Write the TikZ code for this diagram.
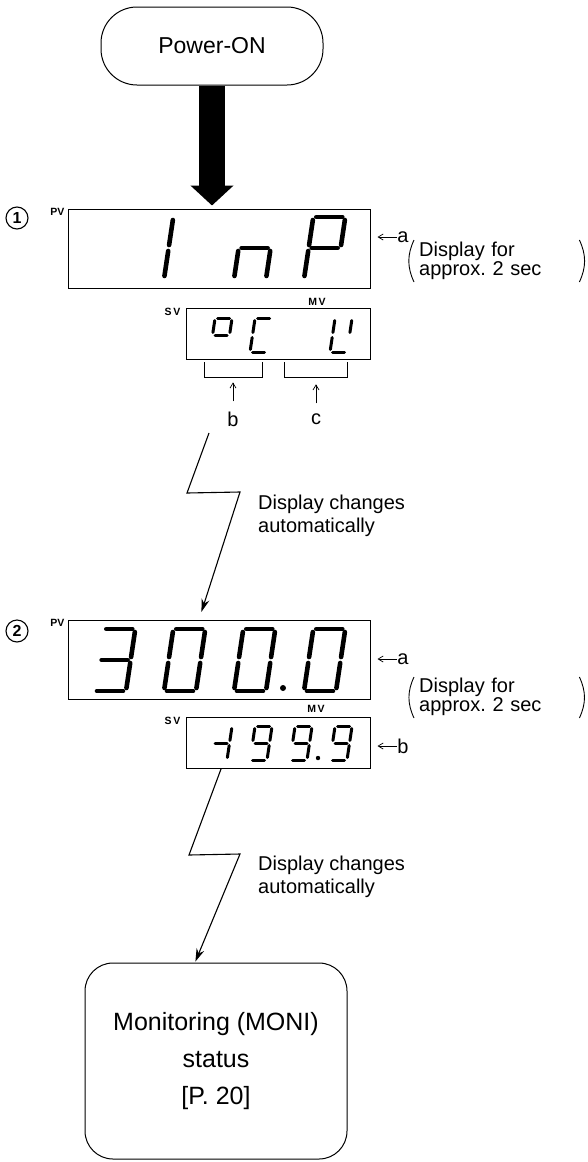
\documentclass[tikz,border=0pt]{standalone}
\usepackage{fontspec}
\setmainfont{Liberation Sans}
\usetikzlibrary{arrows.meta}

% one slanted seven-segment cell: style, x, y (bottom), width, height, gap, segments
\newcommand{\segdigit}[7]{%
  \begin{scope}[shift={(#2,#3)}, xslant=0.15]
    \coordinate (a1) at (#6,-#5);       \coordinate (a2) at (#4-#6,-#5);
    \coordinate (b1) at (#4,-#5+#6);    \coordinate (b2) at (#4,-#5/2-#6);
    \coordinate (c1) at (#4,-#5/2+#6);  \coordinate (c2) at (#4,-#6);
    \coordinate (d1) at (#6,0);         \coordinate (d2) at (#4-#6,0);
    \coordinate (e1) at (0,-#6);        \coordinate (e2) at (0,-#5/2+#6);
    \coordinate (f1) at (0,-#5/2-#6);   \coordinate (f2) at (0,-#5+#6);
    \coordinate (g1) at (#6,-#5/2);     \coordinate (g2) at (#4-#6,-#5/2);
  \end{scope}
  \foreach \s in {#7} {\draw[#1] (\s1) -- (\s2);}
}

\begin{document}
\begin{tikzpicture}[x=1pt, y=-1pt,
    box/.style={draw, line width=1pt, inner sep=0pt},
    display/.style={box, minimum width=302pt, minimum height=79pt},
    subdisplay/.style={box, minimum width=184pt, minimum height=51pt},
    pvseg/.style={line width=4.6pt, line cap=round},
    svseg/.style={line width=3pt, line cap=round},
    tag/.style={font=\fontsize{10.5}{10.5}\selectfont\bfseries, inner sep=0pt},
    letter/.style={font=\fontsize{20}{20}\selectfont, inner sep=0pt},
    note/.style={font=\fontsize{20}{23}\selectfont, align=left, inner sep=0pt},
    hold/.style={font=\fontsize{20}{19}\selectfont, align=left, inner sep=0pt, text width=156pt},
    numcirc/.style={draw, circle, line width=1.1pt, minimum size=22pt, inner sep=0pt,
      font=\fontsize{16}{16}\selectfont\bfseries},
    pointer/.style={-{Straight Barb[length=5pt,width=6pt]}, line width=0.7pt},
    jump/.style={-{Stealth[length=13pt,width=8pt]}, line width=1.1pt, line join=miter},
  ]
  \useasboundingbox (0,0) rectangle (588,1162);

  % Start
  \node[box, rounded corners=36pt, minimum width=222pt, minimum height=78pt,
    font=\fontsize{23}{23}\selectfont] (power) at (212,46) {Power-ON};

  % Step 1: input type
  \node[display] (pv1) at (219,248.5) {};
  \node[subdisplay] (sv1) at (278,333.5) {};
  \node[numcirc] (step1) at (17,218) {1};
  \node[tag, anchor=north east] (pvtag1) at ([xshift=-3pt]pv1.north west) {PV};
  \node[tag, anchor=north east] (svtag1) at ([xshift=-5pt]sv1.north west) {S\,V};
  \node[tag] (mvtag1) at (317,302) {M\,V};
  \draw[line width=26pt, -{Triangle[length=20pt,width=42pt]}, shorten >=3pt]
    (power.south) -- ([xshift=-7pt]pv1.north);

  % PV digits "I n P"
  \segdigit{pvseg}{164}{279}{32}{62}{3}{e,f}
  \segdigit{pvseg}{234}{279}{32}{62}{3}{g,e,c}
  \segdigit{pvseg}{304}{279}{32}{62}{3}{a,b,g,f,e}
  % SV digits
  \segdigit{svseg}{210}{352}{17}{34}{2.5}{a,b,g,f}
  \segdigit{svseg}{250}{352}{17}{34}{2.5}{a,f,e,d}
  \segdigit{svseg}{330}{352}{17}{34}{2.5}{f,b,e,d}

  % Brackets b and c
  \draw[line width=0.8pt] (204,362) -- (204,377) -- (262,377) -- (262,362);
  \draw[line width=0.8pt] (284,362) -- (284,377) -- (347,377) -- (347,362);
  \node[letter] (lblb1) at (233,419) {b};
  \node[letter] (lblc1) at (316,419) {c};
  \draw[pointer] ([yshift=10pt]lblb1.north) -- ++(0,-19);
  \draw[pointer] ([yshift=10pt]lblc1.north) -- ++(0,-19);

  \node[letter] (lbla1) at (403,237) {a};
  \draw[pointer] (lbla1.west) -- (pv1.east |- lbla1.west) [shorten >=7pt];
  \node[hold, anchor=west] (hold1) at (419,261) {Display for\\approx.\ 2 sec};
  \draw[line width=0.9pt] ([xshift=-5pt]hold1.west |- 0,240) to[bend right=25] ([xshift=-5pt]hold1.west |- 0,282);
  \draw[line width=0.9pt] ([xshift=4pt]hold1.east |- 0,240) to[bend left=25] ([xshift=4pt]hold1.east |- 0,282);

  % Step 2: range
  \node[display] (pv2) at (219,659.5) {};
  \node[subdisplay] (sv2) at (278,743) {};
  \node[numcirc] (step2) at (17,631) {2};
  \node[tag, anchor=north east] (pvtag2) at ([xshift=-3pt]pv2.north west) {PV};
  \node[tag, anchor=north east] (svtag2) at ([xshift=-5pt]sv2.north west) {S\,V};
  \node[tag] (mvtag2) at (316,709) {M\,V};

  \coordinate (zz1) at (209,433);
  \draw[jump, shorten >=8pt] (zz1) -- ++(-22,60) -- ++(53,-1) -- ([xshift=-20pt]pv2.north);
  \node[note, anchor=west] (auto1) at (258,516) {Display changes\\automatically};

  % PV digits "300.0"
  \segdigit{pvseg}{94}{691}{32}{62}{3}{a,b,g,c,d}
  \segdigit{pvseg}{164}{691}{32}{62}{3}{a,b,c,d,e,f}
  \segdigit{pvseg}{234}{691}{32}{62}{3}{a,b,c,d,e,f}
  \segdigit{pvseg}{304}{691}{32}{62}{3}{a,b,c,d,e,f}
  \fill (283,688) circle (3);
  % SV digits "-199.9"
  \segdigit{svseg}{210}{760}{17}{34}{2.5}{g,b,c}
  \segdigit{svseg}{250}{760}{17}{34}{2.5}{a,b,c,d,f,g}
  \segdigit{svseg}{290}{760}{17}{34}{2.5}{a,b,c,d,f,g}
  \segdigit{svseg}{330}{760}{17}{34}{2.5}{a,b,c,d,f,g}
  \fill (318,758) circle (2.2);

  \node[letter] (lbla2) at (403,659) {a};
  \draw[pointer] (lbla2.west) -- (pv2.east |- lbla2.west) [shorten >=7pt];
  \node[letter] (lblb2) at (403,746) {b};
  \draw[pointer] (lblb2.west) -- (sv2.east |- lblb2.west) [shorten >=7pt];
  \node[hold, anchor=west] (hold2) at (419,697) {Display for\\approx.\ 2 sec};
  \draw[line width=0.9pt] ([xshift=-5pt]hold2.west |- 0,677) to[bend right=25] ([xshift=-5pt]hold2.west |- 0,718);
  \draw[line width=0.9pt] ([xshift=4pt]hold2.east |- 0,677) to[bend left=25] ([xshift=4pt]hold2.east |- 0,718);

  % Monitoring
  \node[box, rounded corners=28pt, minimum width=262pt, minimum height=196pt,
    align=center, font=\fontsize{25}{37}\selectfont] (moni) at (216,1061) {Monitoring (MONI)\\status\\{[P. 20]}};
  \draw[jump, shorten >=1pt] ([xshift=-57pt]sv2.south) -- ++(-32,86) -- ++(51,-1) -- ([xshift=-21pt]moni.north);
  \node[note, anchor=west] (auto2) at (258,877) {Display changes\\automatically};

\end{tikzpicture}
\end{document}
